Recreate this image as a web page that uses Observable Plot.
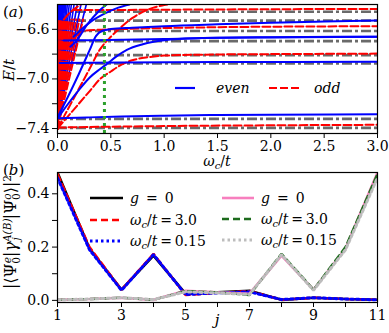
<!DOCTYPE html>
<html><head><meta charset="utf-8">
<script src="https://cdn.jsdelivr.net/npm/d3@7"></script>
<script src="https://cdn.jsdelivr.net/npm/@observablehq/plot@0.6"></script>
<style>
body{margin:0;background:#fff;}
#chart{width:389px;height:333px;position:relative;}
#chart svg{display:block;position:absolute;left:0;overflow:visible;}
</style></head><body><div id="chart"></div>
<script>
// ---------- Panel (a) data ----------
const omegaDomain = [0, 3];
const energyDomain = [-7.44, -6.4];
const omegaTicks = [0, 0.5, 1, 1.5, 2, 2.5, 3];
const energyTicks = [-7.4, -7.0, -6.6];
const energyMinorTicks = [-7.2, -6.8];
const grayLevels = [-6.458, -6.53, -6.614, -6.695, -6.808, -6.876, -7.322, -7.395];
const greenOmega = [0.44];
// photon-replica fan near omega -> 0 : start energy, end energy and omega of each line's end
const blueFanStart = -7.32;
const blueFanEnd = -6.4;
const blueFanTop = [0.003,0.005,0.007,0.009,0.011,0.013,0.016,0.019,0.022,0.026,0.03,0.035,0.041,0.048,0.056,0.066,0.078,0.092,0.11,0.13,0.155,0.185,0.22,0.27];
const redFanStart = -7.40;
const redFanEnd = -6.52;
const redFanTop = [0.006,0.009,0.012,0.016,0.02,0.025,0.03,0.036,0.043,0.051,0.06,0.07,0.082,0.096,0.112,0.13,0.15,0.175,0.205,0.24];
// even-parity curves [omega, E]
const blueLow   = [[0,-7.318],[0.3,-7.31],[0.6,-7.303],[1.0,-7.296],[1.5,-7.291],[2.0,-7.288],[3.0,-7.285]];
const blueMid   = [[0.02,-6.872],[0.6,-6.868],[1.5,-6.864],[3.0,-6.862]];
const blueN1    = [[0,-7.32],[0.1,-7.2],[0.2,-7.09],[0.3,-6.99],[0.4,-6.92],[0.47,-6.875],[0.55,-6.82],[0.65,-6.765],[0.8,-6.72],[1.0,-6.688],[1.3,-6.672],[2.0,-6.664],[3.0,-6.66]];
const blueFlat  = [[0.06,-6.69],[0.3,-6.688],[0.6,-6.684],[1.0,-6.678],[1.5,-6.668],[3.0,-6.66]];
const blueN2    = [[0,-7.31],[0.1,-7.14],[0.2,-6.96],[0.3,-6.77],[0.36,-6.655],[0.42,-6.612],[0.5,-6.598],[0.7,-6.588],[1.0,-6.575],[1.5,-6.56],[2.0,-6.547],[2.5,-6.537],[3.0,-6.528]];
const blueUp1   = [[0.12,-6.74],[0.17,-6.70],[0.28,-6.56],[0.38,-6.46],[0.46,-6.4]];
const blueUp2   = [[0.15,-6.66],[0.31,-6.54],[0.45,-6.47],[0.57,-6.425],[0.675,-6.4]];
// odd-parity curves [omega, E]
const redLow    = [[0,-7.392],[0.5,-7.385],[1.0,-7.38],[2.0,-7.374],[3.0,-7.37]];
const redN1     = [[0,-7.40],[0.1,-7.30],[0.2,-7.2],[0.3,-7.1],[0.4,-7.0],[0.5,-6.94],[0.6,-6.885],[0.7,-6.85],[0.85,-6.825],[1.0,-6.812],[1.5,-6.803],[2.0,-6.8],[3.0,-6.796]];
const redMid    = [[0.12,-6.72],[0.18,-6.65],[0.24,-6.615],[0.35,-6.605],[0.6,-6.598],[1.0,-6.59],[1.5,-6.583],[2.0,-6.579],[3.0,-6.575]];
const redTop    = [[0.15,-6.445],[0.5,-6.444],[1.0,-6.442],[2.0,-6.438],[3.0,-6.436]];
const redN2     = [[0,-7.40],[0.1,-7.24],[0.2,-7.08],[0.3,-6.92],[0.4,-6.76],[0.5,-6.66],[0.6,-6.58],[0.7,-6.51],[0.8,-6.46],[0.9,-6.425],[1.0,-6.405],[1.1,-6.39]];
const redUp     = [[0.06,-6.52],[0.1,-6.48],[0.15,-6.44],[0.2,-6.41],[0.23,-6.39]];

// ---------- Panel (b) data ----------
const jValues = [1,2,3,4,5,6,7,8,9,10,11];
const jTicksLabeled = [1,3,5,7,9,11];
const jTicksMinor = [2,4,6,8,10];
const overlapTicks = [0, 0.2, 0.4];
const overlapMinorTicks = [0.1, 0.3];
const overlapDomain = [-0.008, 0.48];
const A_g0   = [0.48, 0.195, 0.04, 0.168, 0.025, 0.03, 0.036, 0.002, 0.01, 0.005, 0.002];
const A_w30  = [0.475, 0.2, 0.04, 0.175, 0.02, 0.028, 0.035, 0.002, 0.01, 0.005, 0.002];
const A_w015 = [0.46, 0.19, 0.038, 0.172, 0.022, 0.028, 0.032, 0.003, 0.01, 0.005, 0.002];
const B_g0   = [0.002, 0.005, 0.01, 0.002, 0.036, 0.03, 0.025, 0.168, 0.04, 0.195, 0.48];
const B_w30  = [0.002, 0.005, 0.01, 0.002, 0.035, 0.03, 0.02, 0.175, 0.04, 0.2, 0.475];
const B_w015 = [0.002, 0.005, 0.01, 0.003, 0.032, 0.028, 0.022, 0.172, 0.038, 0.19, 0.46];

// ---------- helpers ----------
const FONT = "DejaVu Serif";
const f1 = d3.format(".1f");
const rowsOf = curves => curves.flatMap((c, k) => c.map(([x, y]) => ({x, y, id: k})));
const fanRows = (start, end, tops) => tops.flatMap((t, k) => [{x: omegaDomain[0], y: start, id: k}, {x: t, y: end, id: k}]);
const seriesLine = (vals, opts) => Plot.line(vals, {x: (d, i) => jValues[i], y: d => d, strokeLinejoin: "miter", clip: true, ...opts});

const BLUE = "#0000ff", RED = "#ff0000", GRAY = "#6a6a6a";

// ---------- Panel (a) ----------
const plotA = Plot.plot({
  width: 389, height: 165,
  marginTop: 4, marginBottom: 32, marginLeft: 57, marginRight: 12,
  x: {domain: omegaDomain},
  y: {domain: energyDomain},
  style: {fontFamily: FONT, fontSize: "14px", background: "none", color: "black", overflow: "visible"},
  marks: [
    Plot.ruleY(grayLevels, {stroke: GRAY, strokeWidth: 2.6, strokeDasharray: "10,3,3,3"}),
    Plot.line(fanRows(blueFanStart, blueFanEnd, blueFanTop), {x: "x", y: "y", z: "id", stroke: BLUE, strokeWidth: 1.6, clip: true}),
    Plot.line(fanRows(redFanStart, redFanEnd, redFanTop), {x: "x", y: "y", z: "id", stroke: RED, strokeWidth: 2, strokeDasharray: "7,3", clip: true}),
    Plot.line(rowsOf([redLow, redN1, redMid, redTop, redN2, redUp]), {x: "x", y: "y", z: "id", stroke: RED, strokeWidth: 2, strokeDasharray: "8,3", curve: "monotone-x", clip: true}),
    Plot.line(rowsOf([blueLow, blueMid, blueN1, blueFlat, blueN2, blueUp1, blueUp2]), {x: "x", y: "y", z: "id", stroke: BLUE, strokeWidth: 2, curve: "monotone-x", clip: true}),
    Plot.ruleX(greenOmega, {stroke: "#2ca02c", strokeWidth: 3, strokeDasharray: "3,4"}),
    Plot.frame({stroke: "black", strokeWidth: 1.2}),
    Plot.axisX({ticks: omegaTicks, tickFormat: f1, tickSize: 5, tickPadding: 3, label: null, fontSize: 14}),
    Plot.axisY({ticks: energyTicks, tickFormat: f1, tickSize: 5, tickPadding: 3, label: null, fontSize: 14}),
    Plot.axisY({ticks: energyMinorTicks, tickFormat: () => "", tickSize: 5, label: null})
  ]
});

// ---------- Panel (b) ----------
const plotB = Plot.plot({
  width: 389, height: 168,
  marginTop: 7, marginBottom: 31, marginLeft: 57, marginRight: 12,
  x: {domain: [jValues[0], jValues[jValues.length - 1]]},
  y: {domain: overlapDomain},
  style: {fontFamily: FONT, fontSize: "14px", background: "none", color: "black", overflow: "visible"},
  marks: [
    seriesLine(A_g0,   {stroke: "black", strokeWidth: 2.6}),
    seriesLine(A_w30,  {stroke: RED, strokeWidth: 2.4, strokeDasharray: "7,4"}),
    seriesLine(A_w015, {stroke: BLUE, strokeWidth: 3, strokeDasharray: "2.5,3"}),
    seriesLine(B_g0,   {stroke: "#f77fbe", strokeWidth: 2.6}),
    seriesLine(B_w30,  {stroke: "#1d6b1d", strokeWidth: 2.4, strokeDasharray: "7,4"}),
    seriesLine(B_w015, {stroke: "#bdbdbd", strokeWidth: 3, strokeDasharray: "2.5,3"}),
    Plot.frame({stroke: "black", strokeWidth: 1.2}),
    Plot.axisX({ticks: jTicksLabeled, tickFormat: d => String(d), tickSize: 5, tickPadding: 3, label: null, fontSize: 14}),
    Plot.axisX({ticks: jTicksMinor, tickFormat: () => "", tickSize: 5, label: null}),
    Plot.axisY({ticks: overlapTicks, tickFormat: f1, tickSize: 5, tickPadding: 3, label: null, fontSize: 14}),
    Plot.axisY({ticks: overlapMinorTicks, tickFormat: () => "", tickSize: 5, label: null})
  ]
});

// ---------- text and legends ----------
function txt(svg, x, y, parts, opts = {}) {
  const t = d3.select(svg).append("text")
    .attr("x", x).attr("y", y)
    .attr("font-family", FONT).attr("font-size", opts.size || 14)
    .attr("text-anchor", opts.anchor || "start").attr("fill", "black");
  if (opts.rotate) t.attr("transform", `rotate(${opts.rotate},${x},${y})`);
  for (const p of parts) {
    const s = t.append("tspan").text(p.t);
    if (p.i) s.attr("font-style", "italic");
    if (p.size) s.attr("font-size", p.size);
    if (p.dx) s.attr("dx", p.dx);
    if (p.dy) s.attr("dy", p.dy);
  }
  return t;
}
function sample(svg, x1, x2, y, stroke, width, dash) {
  d3.select(svg).append("line").attr("x1", x1).attr("x2", x2).attr("y1", y).attr("y2", y)
    .attr("stroke", stroke).attr("stroke-width", width).attr("stroke-dasharray", dash || null);
}
const omegaLabel = (val) => [
  {t: "ω", i: true}, {t: "c", i: true, size: 10, dy: 3}, {t: "/", dy: -3}, {t: "t", i: true}, {t: "\u2009=\u2009" + val}
];

// panel (a)
txt(plotA, 3, 17, [{t: "("}, {t: "a", i: true}, {t: ")"}], {size: 15});
txt(plotA, 14, 70, [{t: "E", i: true}, {t: "/"}, {t: "t", i: true}], {size: 15, anchor: "middle", rotate: -90});
txt(plotA, 217, 166, [{t: "ω", i: true}, {t: "c", i: true, size: 10, dy: 2.5}, {t: "/", dy: -2.5}, {t: "t", i: true}], {size: 14, anchor: "middle"});
sample(plotA, 175, 195, 88, BLUE, 2.2);
txt(plotA, 216, 93, [{t: "even", i: true}], {size: 14});
sample(plotA, 269, 301, 88, RED, 2.2, "8,3");
txt(plotA, 314, 93, [{t: "odd", i: true}], {size: 14});

// panel (b)
txt(plotB, 3, 10, [{t: "("}, {t: "b", i: true}, {t: ")"}], {size: 15});
txt(plotB, 16, 67, [
  {t: "|⟨Ψ"}, {t: "e", i: true, size: 10.5, dy: -5}, {t: "0", size: 10.5, dx: -6.5, dy: 9},
  {t: "|", dy: -4}, {t: "γ", i: true}, {t: "A(B)", i: true, size: 10.5, dy: -5}, {t: "j", i: true, size: 10.5, dx: -22, dy: 9},
  {t: "|Ψ", dx: 18, dy: -4}, {t: "o", i: true, size: 10.5, dy: -5}, {t: "0", size: 10.5, dx: -6.5, dy: 9},
  {t: "⟩|", dy: -4}, {t: "2", size: 10.5, dy: -5}
], {size: 16, anchor: "middle", rotate: -90});
txt(plotB, 217, 160, [{t: "j", i: true}], {size: 15, anchor: "middle"});

sample(plotB, 90, 123, 33, "black", 2.6);
txt(plotB, 130, 38, [{t: "g", i: true}, {t: "\u2002=\u20020"}]);
sample(plotB, 90, 123, 55, RED, 2.4, "7,4");
txt(plotB, 130, 60, omegaLabel("3.0"));
sample(plotB, 90, 123, 76, BLUE, 3, "2.5,3");
txt(plotB, 130, 81, omegaLabel("0.15"));

sample(plotB, 222, 254, 33, "#f77fbe", 2.6);
txt(plotB, 261, 38, [{t: "g", i: true}, {t: "\u2002=\u20020"}]);
sample(plotB, 222, 254, 54, "#1d6b1d", 2.4, "7,4");
txt(plotB, 261, 59, omegaLabel("3.0"));
sample(plotB, 222, 254, 75, "#bdbdbd", 3, "2.5,3");
txt(plotB, 261, 80, omegaLabel("0.15"));

const chart = document.getElementById("chart");
plotA.style.top = "0px";
plotB.style.top = "165px";
chart.appendChild(plotA);
chart.appendChild(plotB);
</script>
</body></html>
